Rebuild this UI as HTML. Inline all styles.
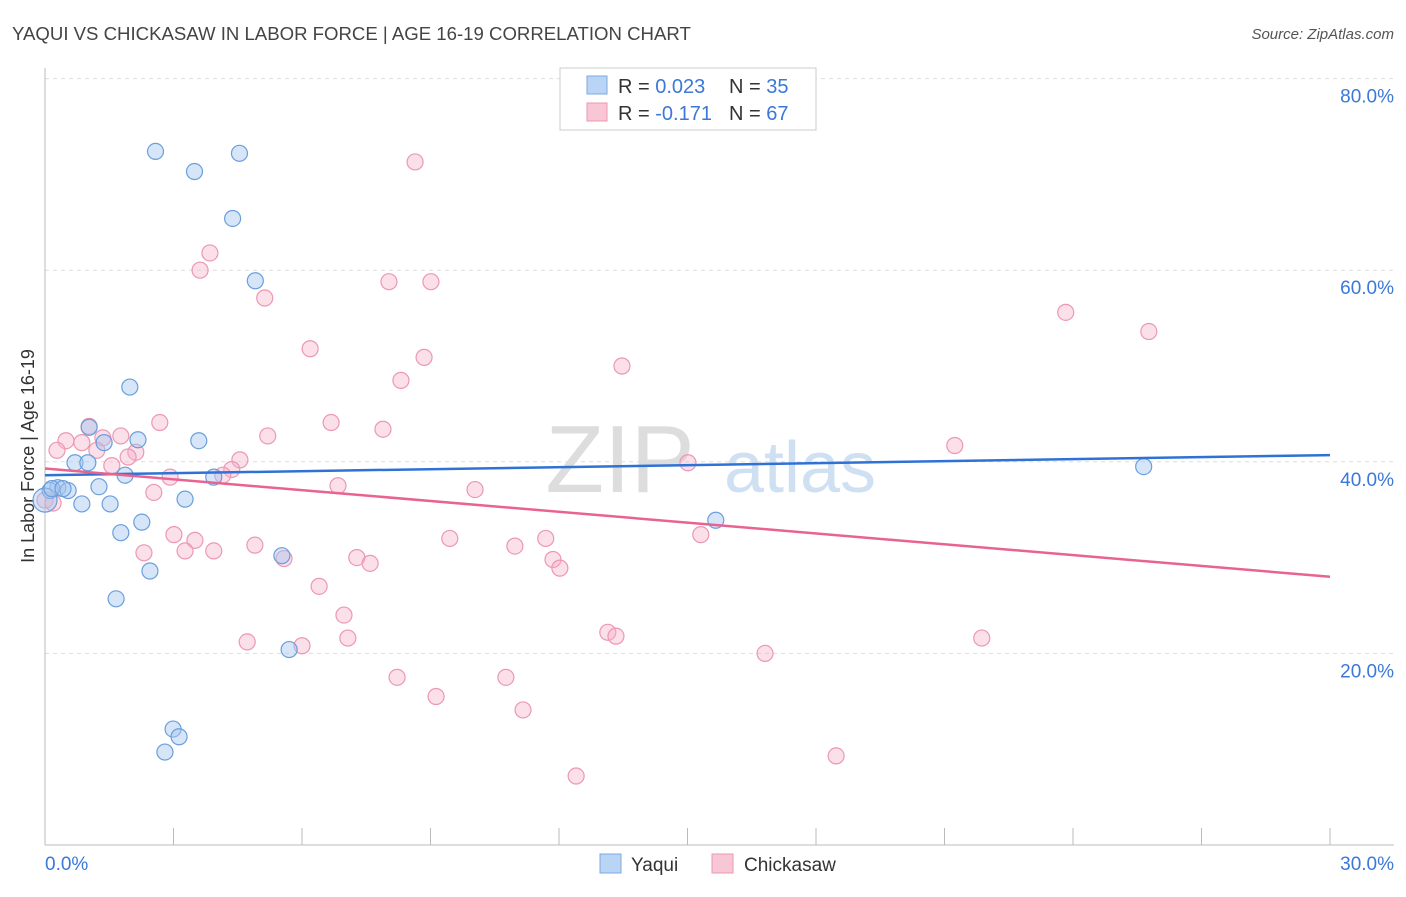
<!DOCTYPE html>
<html><head><meta charset="utf-8"><style>
body{margin:0;background:#fff;font-family:"Liberation Sans",sans-serif}
svg text{font-family:"Liberation Sans",sans-serif}
</style></head><body>
<svg id="c" width="1406" height="892">
<text x="12" y="40" font-size="18.6" fill="#444">YAQUI VS CHICKASAW IN LABOR FORCE | AGE 16-19 CORRELATION CHART</text>
<text x="1394" y="39" font-size="15" fill="#555" font-style="italic" text-anchor="end">Source: ZipAtlas.com</text>
<text x="620" y="492" font-size="96" fill="#ddd" font-family="Liberation Serif" text-anchor="middle">ZIP</text>
<text x="800" y="492" font-size="72" fill="#cfe0f3" text-anchor="middle">atlas</text>
<text x="34" y="456" font-size="18" fill="#333" text-anchor="middle" transform="rotate(-90 34 456)">In Labor Force | Age 16-19</text>
<g id="grid"></g><g id="marks"></g>
<g>
<rect x="560" y="68" width="256" height="62" fill="#fff" stroke="#ccc"/>
<rect x="587" y="76" width="20" height="18" fill="#b9d4f5" stroke="#7aaae0"/>
<rect x="587" y="103" width="20" height="18" fill="#f9c6d6" stroke="#ec98b2"/>
<text x="618" y="93" font-size="20" fill="#333">R = <tspan fill="#3b78d8">0.023</tspan></text>
<text x="729" y="93" font-size="20" fill="#333">N = <tspan fill="#3b78d8">35</tspan></text>
<text x="618" y="120" font-size="20" fill="#333">R = <tspan fill="#3b78d8">-0.171</tspan></text>
<text x="729" y="120" font-size="20" fill="#333">N = <tspan fill="#3b78d8">67</tspan></text>
</g>
<g>
<rect x="600" y="854" width="21" height="19" fill="#b9d4f5" stroke="#7aaae0"/>
<text x="631" y="871" font-size="19" fill="#333">Yaqui</text>
<rect x="712" y="854" width="21" height="19" fill="#f9c6d6" stroke="#ec98b2"/>
<text x="744" y="871" font-size="19" fill="#333">Chickasaw</text>
</g>
</svg>
<script>
const yaquiX=[2.58,3.49,4.54,4.38,4.91,1.98,1.03,2.17,3.59,1.38,0.7,1.0,1.87,3.94,1.26,0.3,0.54,0.12,1.52,0.86,3.27,2.26,1.77,2.45,5.53,1.66,5.70,2.99,3.13,2.8,15.66,25.65,0,0.16,0.42];
const yaquiY=[72.4,70.3,72.2,65.4,58.9,47.8,43.6,42.3,42.2,42.0,39.9,39.9,38.6,38.4,37.4,37.3,37.0,37.0,35.6,35.6,36.1,33.7,32.6,28.6,30.2,25.7,20.4,12.1,11.3,9.7,33.9,39.5,36.0,37.2,37.2];
const chickX=[8.64,3.85,3.62,5.13,8.03,9.01,6.19,8.85,8.31,13.47,23.83,25.77,2.68,6.68,1.03,0.49,0.86,1.77,1.35,2.12,0.28,7.89,5.2,4.55,4.36,4.15,1.56,1.94,1.21,21.24,15.01,6.84,10.04,2.54,2.92,0,0.19,3.01,3.5,9.45,11.69,10.97,15.31,4.9,2.31,3.27,3.94,7.28,7.59,5.58,11.86,12.02,6.4,6.98,13.14,7.07,4.72,6.0,13.33,21.87,16.81,8.22,10.76,9.13,11.16,12.4,18.47];
const chickY=[71.3,61.8,60.0,57.1,58.8,58.8,51.8,50.9,48.5,50.0,55.6,53.6,44.1,44.1,43.7,42.2,42.0,42.7,42.5,41.0,41.2,43.4,42.7,40.2,39.2,38.6,39.6,40.5,41.2,41.7,39.9,37.5,37.1,36.8,38.4,36.0,35.7,32.4,31.8,32.0,32.0,31.2,32.4,31.3,30.5,30.7,30.7,30.0,29.4,29.9,29.8,28.9,27.0,24.0,22.2,21.6,21.2,20.8,21.8,21.6,20.0,17.5,17.5,15.5,14.1,7.2,9.3];
const yaquiTrend=[38.6,40.7], chickTrend=[39.3,28.0];
const xTicks=[0,30], yTicks=[20,40,60,80];
const X=v=>45+v/30*1285, Y=v=>845-v*9.58;
const NS="http://www.w3.org/2000/svg", g=document.getElementById('grid'), m=document.getElementById('marks');
function el(t,a,p){const e=document.createElementNS(NS,t);for(const k in a)e.setAttribute(k,a[k]);p.appendChild(e);return e;}
for(const t of yTicks){const l=el('line',{x1:45,x2:1394,y1:Y(t),y2:Y(t),stroke:'#ddd','stroke-dasharray':'4,4'},g);


const tx=el('text',{x:1394,y:Y(t)+24,'font-size':19,fill:'#3b78d8','text-anchor':'end'},g);tx.textContent=t.toFixed(1)+'%';

}
const ax=el('line',{x1:45,x2:1394,y1:845,y2:845,stroke:'#bbb'},g);


const ay=el('line',{x1:45,x2:45,y1:68,y2:845,stroke:'#bbb'},g);


for(let i=1;i<=10;i++){const tk=el('line',{x1:X(i*3),x2:X(i*3),y1:828,y2:845,stroke:'#bbb'},g);

}
xTicks.forEach((t,i)=>{const tx=el('text',{x:i?1394:45,y:870,'font-size':19,fill:'#3b78d8','text-anchor':i?'end':'start'},g);tx.textContent=t.toFixed(1)+'%';

});
chickX.forEach((x,i)=>{const c=el('circle',{cx:X(x),cy:Y(chickY[i]),r:8,fill:'rgba(246,176,200,0.4)',stroke:'#ec98b2','stroke-width':1.2},m);

});
yaquiX.forEach((x,i)=>{const c=el('circle',{cx:X(x),cy:Y(yaquiY[i]),r:i==32?12:8,fill:'rgba(165,198,240,0.45)',stroke:'#6a9fdc','stroke-width':1.2},m);

});
const tb=el('line',{x1:X(0),x2:X(30),y1:Y(yaquiTrend[0]),y2:Y(yaquiTrend[1]),stroke:'#2f72d6','stroke-width':2.5},m);


const tp=el('line',{x1:X(0),x2:X(30),y1:Y(chickTrend[0]),y2:Y(chickTrend[1]),stroke:'#e8638f','stroke-width':2.5},m);


</script>
</body></html>
